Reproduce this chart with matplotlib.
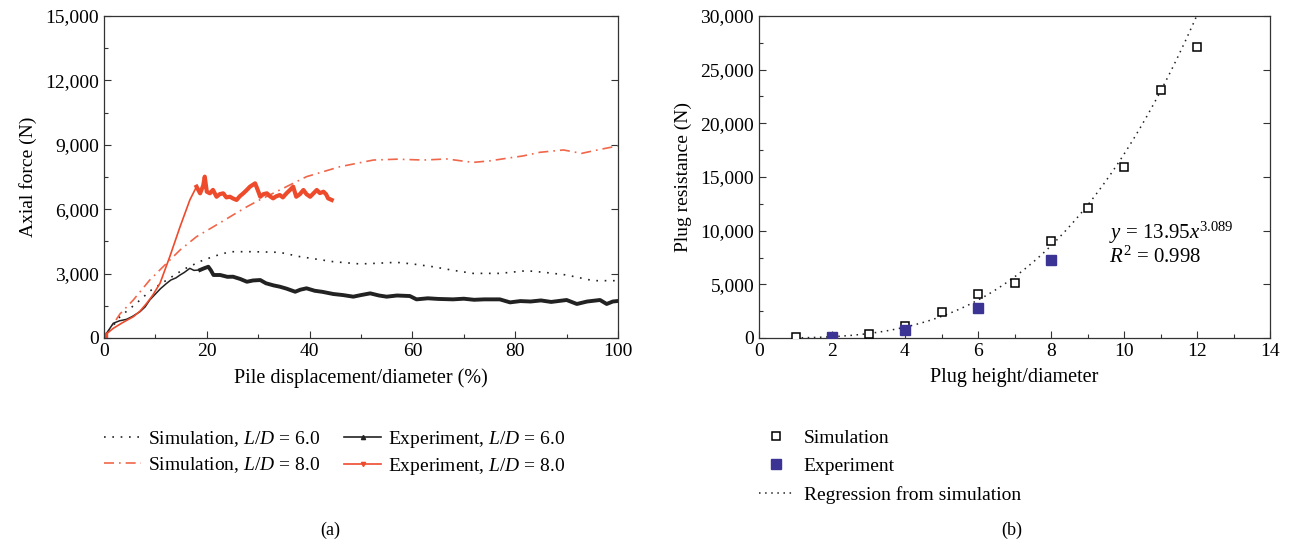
import matplotlib
matplotlib.use("Agg")
import matplotlib.pyplot as plt
import numpy as np
from matplotlib.lines import Line2D
from matplotlib.ticker import MultipleLocator, FuncFormatter

plt.rcParams['font.family'] = ['Liberation Serif', 'DejaVu Serif']
plt.rcParams['mathtext.fontset'] = 'custom'
plt.rcParams['mathtext.rm'] = 'Liberation Serif'
plt.rcParams['mathtext.it'] = 'Liberation Serif:italic'

# ---------------- data (a) ----------------
sim6_x = [0, 3.1, 6.3, 9, 12.2, 15.5, 19.3, 22, 24.5, 29, 34.2, 38.1, 44.6, 49.8, 53, 56.9,
          60, 64, 68, 71.8, 77, 82.2, 86, 90, 95.2, 100]
sim6_y = [0, 990, 1615, 2200, 2700, 3200, 3630, 3850, 4020, 4020, 3990, 3790, 3555, 3450, 3480,
          3525, 3450, 3320, 3150, 3010, 3010, 3135, 3050, 2935, 2670, 2670]

sim8_x = [0, 3.1, 5.7, 8.9, 11.5, 14.8, 18, 21.3, 25.1, 27.8, 30, 34.2, 39.4, 45.9, 52.4, 57,
          62.1, 66.7, 71.8, 75, 78.3, 81.5, 84.8, 89.4, 92.9, 96, 100]
sim8_y = [0, 1118, 1770, 2700, 3320, 4100, 4720, 5185, 5730, 6115, 6400, 6895, 7515, 7980, 8290,
          8330, 8290, 8340, 8180, 8250, 8370, 8480, 8650, 8760, 8600, 8760, 8950]

exp6_x = [0, 0.5, 1.8, 3, 4.4, 5.5, 7, 8, 8.9, 10, 11, 12.2, 13, 14, 14.8, 15.6, 16.7, 17.5, 18.7,
          19.5, 20.3, 20.8, 21.3, 22.6, 24, 25.1, 26.5, 27.8, 29, 30.4, 31.5, 33, 34.2, 35.5, 37.2,
          38.2, 39.4, 41, 42.5, 44.6, 46.5, 48.5, 50, 51.8, 53.5, 55, 57, 59.5, 60.8, 63, 65, 67.9,
          70, 72, 74, 77, 79, 81, 83, 85, 87, 90, 92, 94, 96.5, 97.8, 99, 100]
exp6_y = [150, 220, 685, 800, 870, 1000, 1225, 1450, 1770, 2050, 2300, 2550, 2700, 2800, 2935,
          3050, 3245, 3150, 3170, 3250, 3320, 3150, 2935, 2935, 2850, 2855, 2750, 2620, 2680, 2700,
          2550, 2450, 2390, 2300, 2155, 2250, 2315, 2200, 2150, 2050, 2000, 1925, 2000, 2080, 1980,
          1925, 1980, 1955, 1800, 1850, 1820, 1800, 1830, 1780, 1800, 1800, 1660, 1720, 1700, 1750,
          1680, 1770, 1585, 1700, 1770, 1585, 1700, 1725]

exp8_x = [0, 1.8, 3.5, 5.7, 7, 8.3, 9.5, 10.9, 12.8, 14.8, 16.7, 18, 18.7, 19.3, 19.6, 20, 20.6,
          21.2, 21.9, 22.5, 23.2, 23.8, 24.5, 25.1, 25.8, 26.4, 27.1, 27.8, 28.4, 29.4, 29.9, 30.4,
          31, 31.7, 32.3, 32.9, 33.5, 34.2, 34.8, 35.5, 36.2, 36.8, 37.4, 38.1, 38.8, 39.4, 40.1,
          40.8, 41.4, 42, 42.7, 43.2, 43.6, 44.3]
exp8_y = [100, 450, 700, 990, 1250, 1615, 2000, 2550, 3790, 5185, 6430, 7050, 6740, 7100, 7515,
          6815, 6740, 6900, 6580, 6700, 6740, 6550, 6580, 6500, 6430, 6600, 6740, 6900, 7050, 7205,
          6900, 6580, 6700, 6740, 6600, 6505, 6600, 6660, 6550, 6740, 6900, 7050, 6580, 6700, 6895,
          6700, 6580, 6750, 6895, 6750, 6815, 6700, 6505, 6430]

# ---------------- data (b) ----------------
sim_h = [1, 2, 3, 4, 5, 6, 7, 8, 9, 10, 11, 12]
sim_r = [50, 120, 400, 1100, 2400, 4100, 5100, 9000, 12100, 15900, 23100, 27100]
exp_h = [2, 4, 6, 8]
exp_r = [100, 700, 2800, 7300]
reg_a, reg_b = 13.95, 3.089

RED = '#EE4A2C'
RED_SIM = '#F0664A'
BLUE = '#3B3494'

fig = plt.figure(figsize=(12.9, 5.48), dpi=100)
ax1 = fig.add_axes([104/1290, 1-338/548, (618-104)/1290, (338-16)/548])
ax2 = fig.add_axes([759/1290, 1-338/548, (1270-759)/1290, (338-16)/548])

FS = 14
comma = FuncFormatter(lambda v, p: f'{int(round(v)):,}')

def style(ax):
    ax.tick_params(which='both', direction='in', top=False, right=True, labelsize=FS,
                   color='#333333', width=0.8)
    ax.tick_params(which='major', length=5)
    ax.tick_params(which='minor', length=3, right=False)
    for s in ax.spines.values():
        s.set_linewidth(0.9)
        s.set_color('#333333')

# ----- (a)
ax1.plot(sim6_x, sim6_y, color='#222222', lw=1.2, ls=(0, (1, 4)))
ax1.plot(sim8_x, sim8_y, color=RED_SIM, lw=1.2, ls=(0, (6, 3, 1, 3)))
k6 = exp6_x.index(18.7)
ax1.plot(exp6_x[:k6 + 1], exp6_y[:k6 + 1], color='#222222', lw=1.1)
ax1.plot(exp6_x[k6:], exp6_y[k6:], color='#222222', lw=2.8)
k8 = exp8_x.index(18)
ax1.plot(exp8_x[:k8 + 1], exp8_y[:k8 + 1], color=RED, lw=1.2)
ax1.plot(exp8_x[k8:], exp8_y[k8:], color=RED, lw=3.0)
ax1.plot(exp8_x[:1], exp8_y[:1], color=RED, marker='s', ms=5, ls='none')

ax1.set_xlim(0, 100)
ax1.set_ylim(0, 15000)
ax1.xaxis.set_major_locator(MultipleLocator(20))
ax1.xaxis.set_minor_locator(MultipleLocator(10))
ax1.yaxis.set_major_locator(MultipleLocator(3000))
ax1.yaxis.set_minor_locator(MultipleLocator(1500))
ax1.yaxis.set_major_formatter(comma)
style(ax1)
ax1.set_xlabel('Pile displacement/diameter (%)', fontsize=FS + 0.5, labelpad=6)
ax1.set_ylabel('Axial force (N)', fontsize=FS, labelpad=6)

h_a = [Line2D([], [], color='#222222', lw=1.2, ls=(0, (1, 4))),
       Line2D([], [], color=RED_SIM, lw=1.2, ls=(0, (6, 3, 1, 3))),
       Line2D([], [], color='#222222', lw=1.2, marker='^', ms=3),
       Line2D([], [], color=RED, lw=1.2, marker='v', ms=3)]
l_a = ['Simulation, $L/D$ = 6.0', 'Simulation, $L/D$ = 8.0',
       'Experiment, $L/D$ = 6.0', 'Experiment, $L/D$ = 8.0']
ax1.legend(h_a, l_a, loc='upper left', bbox_to_anchor=(-0.034, -0.228), ncol=2, frameon=False,
           fontsize=FS, numpoints=1, handlelength=1.9, handletextpad=0.35, columnspacing=1.25,
           labelspacing=0.32)

# ----- (b)
ax2.plot(sim_h, sim_r, ls='none', marker='s', ms=5.5, mfc='white', mec='black', mew=1.1, zorder=3)
ax2.plot(exp_h, exp_r, ls='none', marker='s', ms=6.5, mfc=BLUE, mec=BLUE, zorder=4)
xr = np.linspace(1, 12.02, 200)
ax2.plot(xr, reg_a * xr ** reg_b, color='#222222', lw=1.1, ls=(0, (1, 3)), zorder=2)
ax2.set_xlim(0, 14)
ax2.set_ylim(0, 30000)
ax2.xaxis.set_major_locator(MultipleLocator(2))
ax2.xaxis.set_minor_locator(MultipleLocator(1))
ax2.yaxis.set_major_locator(MultipleLocator(5000))
ax2.yaxis.set_minor_locator(MultipleLocator(2500))
ax2.yaxis.set_major_formatter(comma)
style(ax2)
ax2.set_xlabel('Plug height/diameter', fontsize=FS + 0.5, labelpad=6)
ax2.set_ylabel('Plug resistance (N)', fontsize=FS, labelpad=6)
ax2.text(9.6, 9800, f'$y$ = {reg_a}$x^{{{reg_b}}}$', fontsize=FS + 1, va='center')
ax2.text(9.6, 7500, '$R^2$ = 0.998', fontsize=FS + 1, va='center')

h_b = [Line2D([], [], ls='none', marker='s', ms=5.5, mfc='white', mec='black', mew=1.1),
       Line2D([], [], ls='none', marker='s', ms=6.5, mfc=BLUE, mec=BLUE),
       Line2D([], [], color='#222222', lw=1.1, ls=(0, (1, 3)))]
ax2.legend(h_b, ['Simulation', 'Experiment', 'Regression from simulation'], loc='upper left',
           bbox_to_anchor=(-0.034, -0.228), frameon=False, fontsize=FS, numpoints=1,
           handlelength=1.75, handletextpad=0.55, labelspacing=0.56)

fig.text(330/1290, 1 - 530/548, '(a)', ha='center', va='center', fontsize=FS - 1)
fig.text(1012/1290, 1 - 530/548, '(b)', ha='center', va='center', fontsize=FS - 1)

fig.savefig('out.png', dpi=100)
